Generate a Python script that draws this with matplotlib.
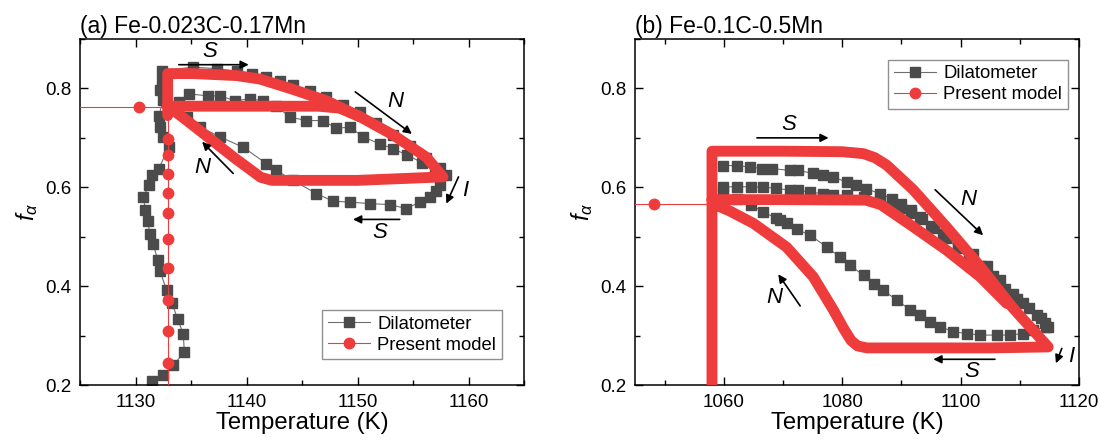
import numpy as np
from matplotlib import pyplot as plt

plt.rcParams['font.family'] = ['Liberation Sans', 'DejaVu Sans']
plt.rcParams['mathtext.fontset'] = 'custom'
plt.rcParams['mathtext.it'] = 'Liberation Sans:italic'
plt.rcParams['mathtext.rm'] = 'Liberation Sans'

RED = '#ee3b3b'
GRAY = '#4b4b4b'

# ---- panel (a): Fe-0.023C-0.17Mn ----
# dilatometer (left branch, upper, lower, middle)
a_left_T = [1131.5, 1132.5, 1133.4, 1134.4, 1134.3, 1133.8, 1133.3, 1132.8, 1132.2, 1132.0, 1131.6, 1131.3, 1131.1,
            1130.9, 1130.7, 1131.2, 1131.5, 1132.1, 1133.0, 1132.5, 1132.2, 1132.1, 1132.5, 1132.2, 1132.4, 1132.4]
a_left_f = [0.209, 0.220, 0.240, 0.267, 0.304, 0.333, 0.365, 0.392, 0.431, 0.453, 0.485, 0.506, 0.532,
            0.554, 0.580, 0.604, 0.624, 0.638, 0.681, 0.702, 0.722, 0.745, 0.776, 0.796, 0.815, 0.836]
a_up_T = [1135.2, 1137.3, 1139.1, 1140.5, 1141.8, 1143.0, 1144.2, 1145.7, 1147.2, 1148.7, 1150.2, 1151.7, 1153.2,
          1154.7, 1156.2, 1157.4, 1158.0]
a_up_f = [0.843, 0.840, 0.835, 0.830, 0.823, 0.815, 0.806, 0.794, 0.782, 0.767, 0.752, 0.730, 0.706,
          0.684, 0.660, 0.640, 0.625]
a_low_T = [1157.4, 1157.1, 1156.5, 1155.6, 1154.4, 1152.9, 1151.1, 1149.3, 1147.8, 1146.3, 1144.2, 1142.7, 1141.8,
           1139.7, 1137.6, 1135.8, 1134.6]
a_low_f = [0.605, 0.592, 0.580, 0.570, 0.557, 0.565, 0.567, 0.570, 0.572, 0.587, 0.614, 0.634, 0.648,
           0.681, 0.702, 0.722, 0.742]
a_mid_T = [1133.9, 1134.8, 1136.5, 1137.6, 1139.0, 1140.3, 1141.5, 1142.7, 1143.9, 1145.4, 1146.9, 1148.1, 1149.3,
           1150.5, 1152.0, 1153.2, 1154.5, 1155.8, 1157.0]
a_mid_f = [0.772, 0.789, 0.785, 0.785, 0.775, 0.779, 0.775, 0.764, 0.742, 0.735, 0.735, 0.719, 0.722,
           0.702, 0.688, 0.678, 0.665, 0.650, 0.632]

# present model: dense part of the loop
a_mod_T = [1132.9, 1132.9, 1135.2, 1139.1, 1141.2, 1144.2, 1147.2, 1150.2, 1153.2, 1156.2, 1157.7, 1150.0, 1142.3,
           1141.3, 1139.0, 1136.0, 1134.0, 1132.9, 1140.0, 1146.5, 1148.4, 1150.2]
a_mod_f = [0.745, 0.830, 0.830, 0.826, 0.819, 0.798, 0.775, 0.743, 0.706, 0.661, 0.621, 0.614, 0.614,
           0.620, 0.658, 0.711, 0.746, 0.764, 0.764, 0.764, 0.760, 0.743]
# present model: sparse points
a_lead_T = [1125.0, 1130.3, 1132.9]
a_lead_f = [0.762, 0.762, 0.762]
a_tail_T = 1132.9
a_tail_f = [0.760, 0.697, 0.665, 0.626, 0.588, 0.547, 0.495, 0.436, 0.372, 0.309, 0.244, 0.200]

# ---- panel (b): Fe-0.1C-0.5Mn ----
b_up_T = [1059.9, 1062.2, 1064.4, 1066.4, 1068.1, 1071.2, 1072.6, 1075.1, 1076.8, 1078.5, 1080.8, 1082.4, 1084.1,
          1086.4, 1088.4, 1090.0, 1091.7, 1093.1, 1095.0, 1097.0, 1099.5, 1102.1, 1104.4, 1106.7, 1108.9, 1110.6,
          1112.9, 1114.3, 1114.8]
b_up_f = [0.644, 0.644, 0.641, 0.638, 0.638, 0.634, 0.634, 0.628, 0.624, 0.621, 0.610, 0.604, 0.597,
          0.587, 0.577, 0.567, 0.554, 0.540, 0.522, 0.505, 0.484, 0.466, 0.440, 0.412, 0.385, 0.365,
          0.341, 0.325, 0.318]
b_low_T = [1114.5, 1112.3, 1110.6, 1108.3, 1106.1, 1103.3, 1101.0, 1098.8, 1096.5, 1094.8, 1093.1, 1091.5, 1089.2,
           1086.9, 1085.3, 1083.6, 1081.3, 1079.6, 1077.4, 1074.6, 1072.3, 1070.6, 1069.5, 1068.9, 1066.7, 1064.6,
           1062.2, 1059.9]
b_low_f = [0.318, 0.311, 0.304, 0.301, 0.301, 0.301, 0.304, 0.308, 0.318, 0.328, 0.341, 0.352, 0.372,
           0.392, 0.405, 0.422, 0.442, 0.459, 0.479, 0.503, 0.515, 0.528, 0.533, 0.537, 0.550, 0.564,
           0.577, 0.590]
b_mid_T = [1059.9, 1062.2, 1064.6, 1066.7, 1068.9, 1071.2, 1072.6, 1074.6, 1076.8, 1078.5, 1080.8, 1083.6, 1086.4,
           1088.4, 1090.0, 1091.7, 1093.5, 1095.5, 1097.5, 1099.5, 1101.5, 1103.5, 1105.5, 1107.5, 1109.5, 1111.5,
           1113.5]
b_mid_f = [0.601, 0.601, 0.601, 0.600, 0.598, 0.594, 0.594, 0.590, 0.587, 0.584, 0.584, 0.580, 0.574,
           0.567, 0.558, 0.548, 0.535, 0.517, 0.498, 0.478, 0.460, 0.440, 0.420, 0.395, 0.375, 0.355,
           0.335]

b_mod_T = [1058.0, 1058.0, 1070.0, 1080.0, 1083.6, 1085.5, 1087.5, 1092.0, 1097.6, 1103.3, 1108.9, 1114.8, 1105.0,
           1090.0, 1084.2, 1082.6, 1081.5, 1080.2, 1078.5, 1075.1, 1070.6, 1065.0, 1061.0, 1058.5, 1058.0, 1070.0,
           1084.0, 1086.5, 1092.0, 1097.6, 1103.3, 1107.8]
b_mod_f = [0.200, 0.673, 0.673, 0.672, 0.668, 0.660, 0.645, 0.595, 0.520, 0.440, 0.355, 0.277, 0.275,
           0.275, 0.275, 0.279, 0.290, 0.315, 0.352, 0.419, 0.479, 0.527, 0.552, 0.565, 0.575, 0.575,
           0.574, 0.565, 0.520, 0.473, 0.419, 0.365]
b_lead_T = [1045.0, 1048.2, 1058.0]
b_lead_f = [0.567, 0.567, 0.567]

# arrows: (label, text x, text y, start x, start y, end x, end y)
a_arrows = [('S', 1136.7, 0.875, 1133.9, 0.848, 1140.2, 0.848),
            ('N', 1153.4, 0.774, 1149.8, 0.793, 1154.9, 0.708),
            ('N', 1136.0, 0.640, 1138.8, 0.628, 1136.0, 0.692),
            ('I', 1159.7, 0.594, 1159.1, 0.621, 1158.0, 0.567),
            ('S', 1152.0, 0.508, 1153.8, 0.535, 1149.6, 0.535)]
b_arrows = [('S', 1070.9, 0.727, 1065.6, 0.700, 1077.7, 0.700),
            ('N', 1101.3, 0.576, 1095.7, 0.595, 1103.8, 0.503),
            ('N', 1068.5, 0.377, 1072.9, 0.360, 1069.2, 0.424),
            ('I', 1118.7, 0.257, 1117.1, 0.274, 1116.1, 0.244),
            ('S', 1101.9, 0.228, 1105.8, 0.252, 1095.4, 0.252)]

fig = plt.figure(figsize=(11.01, 4.44), dpi=100)
ax_a = fig.add_axes([80 / 1101, 59 / 444, 444 / 1101, 346 / 444])
ax_b = fig.add_axes([635 / 1101, 59 / 444, 444 / 1101, 346 / 444])


def draw_dil(ax, T, f):
    ax.plot(T, f, '-s', color='#6e6e6e', lw=0.8, mfc=GRAY, mec=GRAY, ms=7, zorder=2)


def style(ax, xlim, xmajor, xminor, title):
    ax.set_xlim(*xlim)
    ax.set_ylim(0.2, 0.9)
    ax.set_xticks(xmajor)
    ax.set_xticks(xminor, minor=True)
    ax.set_yticks([0.2, 0.4, 0.6, 0.8])
    ax.set_yticks([0.3, 0.5, 0.7, 0.9], minor=True)
    ax.tick_params(which='both', direction='in', top=True, right=True, labelsize=13.5, width=1)
    ax.tick_params(which='major', length=6)
    ax.tick_params(which='minor', length=3.5)
    ax.tick_params(axis='x', pad=6.5)
    ax.tick_params(axis='y', pad=6)
    for s in ax.spines.values():
        s.set_linewidth(1.1)
    ax.set_xlabel('Temperature (K)', fontsize=17.2, labelpad=1)
    ax.set_ylabel(r'$f_{\alpha}$', fontsize=17, labelpad=4)
    ax.set_title(title, loc='left', fontsize=16.5, pad=4)


def draw_arrows(ax, arrows):
    for lab, tx, ty, x0, y0, x1, y1 in arrows:
        ax.annotate('', xy=(x1, y1), xytext=(x0, y0),
                    arrowprops=dict(arrowstyle='-|>', color='k', lw=1.2, mutation_scale=12,
                                    shrinkA=0, shrinkB=0), zorder=5)
        ax.text(tx, ty, lab, fontsize=16, style='italic', ha='center', va='center', zorder=5)


# panel (a)
draw_dil(ax_a, a_left_T + a_up_T + a_low_T + a_mid_T, a_left_f + a_up_f + a_low_f + a_mid_f)
ax_a.plot(a_mod_T, a_mod_f, color=RED, lw=7.8, solid_capstyle='round', solid_joinstyle='round', zorder=3)
ax_a.plot(a_lead_T, a_lead_f, '-o', color=RED, lw=0.8, ms=7.5, markevery=[1], zorder=3)
ax_a.plot(np.full(len(a_tail_f), a_tail_T), a_tail_f, '-o', color=RED, lw=0.8, ms=7.5,
          markevery=list(range(1, len(a_tail_f) - 1)), zorder=3)
ax_a.plot([], [], '-s', color='#6e6e6e', lw=0.8, mfc=GRAY, mec=GRAY, ms=7, label='Dilatometer')
ax_a.plot([], [], '-o', color=RED, lw=0.8, ms=7.5, label='Present model')
draw_arrows(ax_a, a_arrows)
style(ax_a, (1125, 1165), [1130, 1140, 1150, 1160], [1125, 1135, 1145, 1155, 1165], '(a) Fe-0.023C-0.17Mn')
ax_a.legend(loc='lower right', bbox_to_anchor=(0.95, 0.075), borderaxespad=0, fontsize=13.3,
            fancybox=False, edgecolor='#909090', framealpha=1, handlelength=2.3, handletextpad=0.4,
            labelspacing=0.2, borderpad=0.3)

# panel (b)
draw_dil(ax_b, b_up_T + b_low_T + b_mid_T, b_up_f + b_low_f + b_mid_f)
ax_b.plot(b_mod_T, b_mod_f, color=RED, lw=7.8, solid_capstyle='round', solid_joinstyle='round', zorder=3)
ax_b.plot(b_lead_T, b_lead_f, '-o', color=RED, lw=0.8, ms=7.5, markevery=[1], zorder=3)
ax_b.plot([], [], '-s', color='#6e6e6e', lw=0.8, mfc=GRAY, mec=GRAY, ms=7, label='Dilatometer')
ax_b.plot([], [], '-o', color=RED, lw=0.8, ms=7.5, label='Present model')
draw_arrows(ax_b, b_arrows)
style(ax_b, (1045, 1120), [1060, 1080, 1100, 1120], [1050, 1070, 1090, 1110], '(b) Fe-0.1C-0.5Mn')
ax_b.legend(loc='upper right', bbox_to_anchor=(0.975, 0.94), borderaxespad=0, fontsize=13.3,
            fancybox=False, edgecolor='#909090', framealpha=1, handlelength=2.3, handletextpad=0.4,
            labelspacing=0.2, borderpad=0.3)

fig.savefig('out.png', dpi=100)
